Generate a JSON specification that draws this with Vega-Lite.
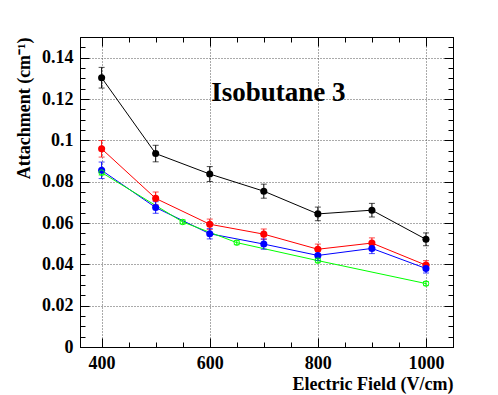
{
  "$schema": "https://vega.github.io/schema/vega-lite/v6.json",
  "width": 373,
  "height": 310,
  "autosize": {"type": "none"},
  "padding": {"left": 80, "top": 37, "right": 45, "bottom": 48},
  "background": "white",
  "config": {
    "view": {"stroke": null},
    "font": "Liberation Serif",
    "axis": {
      "labelFont": "Liberation Serif", "labelFontWeight": "bold", "labelFontSize": 18, "labelColor": "#000",
      "titleFont": "Liberation Serif", "titleFontWeight": "bold", "titleFontSize": 18, "titleColor": "#000",
      "domainColor": "#000", "tickColor": "#000", "domainWidth": 1, "tickWidth": 1,
      "gridColor": "#555", "gridDash": [1, 2], "gridWidth": 1, "gridOpacity": 1
    }
  },
  "datasets": {
    "filled": [
      {"series": "black", "field": 400, "att": 0.1303, "err": 0.005},
      {"series": "black", "field": 500, "att": 0.0936, "err": 0.004},
      {"series": "black", "field": 600, "att": 0.0837, "err": 0.0036},
      {"series": "black", "field": 700, "att": 0.0754, "err": 0.0034},
      {"series": "black", "field": 800, "att": 0.0644, "err": 0.0033},
      {"series": "black", "field": 900, "att": 0.0662, "err": 0.0033},
      {"series": "black", "field": 1000, "att": 0.0521, "err": 0.0031},
      {"series": "red", "field": 400, "att": 0.0959, "err": 0.004},
      {"series": "red", "field": 500, "att": 0.0719, "err": 0.0031},
      {"series": "red", "field": 600, "att": 0.0594, "err": 0.0025},
      {"series": "red", "field": 700, "att": 0.0546, "err": 0.0025},
      {"series": "red", "field": 800, "att": 0.0473, "err": 0.0025},
      {"series": "red", "field": 900, "att": 0.0503, "err": 0.0025},
      {"series": "red", "field": 1000, "att": 0.0396, "err": 0.0022},
      {"series": "blue", "field": 400, "att": 0.0855, "err": 0.004},
      {"series": "blue", "field": 500, "att": 0.0675, "err": 0.0028},
      {"series": "blue", "field": 600, "att": 0.0548, "err": 0.0025},
      {"series": "blue", "field": 700, "att": 0.0498, "err": 0.0025},
      {"series": "blue", "field": 800, "att": 0.0443, "err": 0.0025},
      {"series": "blue", "field": 900, "att": 0.0477, "err": 0.0025},
      {"series": "blue", "field": 1000, "att": 0.038, "err": 0.0022}
    ],
    "green": [
      {"series": "green", "field": 400, "att": 0.0844, "err": 0.0012},
      {"series": "green", "field": 550, "att": 0.0605, "err": 0.001},
      {"series": "green", "field": 650, "att": 0.0505, "err": 0.001},
      {"series": "green", "field": 800, "att": 0.0418, "err": 0.001},
      {"series": "green", "field": 1000, "att": 0.0307, "err": 0.001}
    ],
    "label": [{"text": "Isobutane 3"}]
  },
  "resolve": {"axis": {"x": "independent", "y": "independent"}},
  "layer": [
    {
      "data": {"name": "filled"},
      "mark": {"type": "line", "strokeWidth": 1},
      "encoding": {
        "x": {"field": "field", "type": "quantitative",
          "scale": {"domain": [360, 1050], "nice": false, "zero": false},
          "axis": {"orient": "bottom", "values": [400, 600, 800, 1000], "format": "d", "tickSize": -9,
            "labelFont": "Liberation Serif", "labelFontWeight": "bold", "labelFontSize": 18,
            "titleFont": "Liberation Serif", "titleFontWeight": "bold", "titleFontSize": 18,
            "labelPadding": 16, "grid": true, "title": "Electric Field (V/cm)", "titleAnchor": "end", "titlePadding": 3, "labelFlush": false}},
        "y": {"field": "att", "type": "quantitative",
          "scale": {"domain": [0, 0.15], "nice": false, "zero": false},
          "axis": {"orient": "left", "values": [0, 0.02, 0.04, 0.06, 0.08, 0.1, 0.12, 0.14], "format": "~g", "tickSize": -9,
            "labelFont": "Liberation Serif", "labelFontWeight": "bold", "labelFontSize": 18,
            "titleFont": "Liberation Serif", "titleFontWeight": "bold", "titleFontSize": 18,
            "labelPadding": 16, "grid": true, "title": "Attachment (cm⁻¹)", "titleAnchor": "end", "titlePadding": 8, "labelFlush": false}},
        "color": {"field": "series", "type": "nominal",
          "scale": {"domain": ["black", "red", "blue", "green"], "range": ["#000000", "#ff0000", "#0000ff", "#00ff00"]},
          "legend": null}
      }
    },
    {
      "data": {"name": "green"},
      "mark": {"type": "line", "strokeWidth": 1},
      "encoding": {
        "x": {"field": "field", "type": "quantitative",
          "axis": {"orient": "bottom", "values": [400, 450, 500, 550, 600, 650, 700, 750, 800, 850, 900, 950, 1000, 1050], "tickSize": -5, "labels": false, "grid": false, "title": null}},
        "y": {"field": "att", "type": "quantitative",
          "axis": {"orient": "left", "values": [0, 0.005, 0.01, 0.015, 0.02, 0.025, 0.03, 0.035, 0.04, 0.045, 0.05, 0.055, 0.06, 0.065, 0.07, 0.075, 0.08, 0.085, 0.09, 0.095, 0.1, 0.105, 0.11, 0.115, 0.12, 0.125, 0.13, 0.135, 0.14, 0.145], "tickSize": -5, "labels": false, "grid": false, "title": null}},
        "color": {"field": "series", "type": "nominal", "legend": null}
      }
    },
    {
      "data": {"name": "filled"},
      "mark": {"type": "errorbar", "ticks": {"size": 6}, "thickness": 1},
      "encoding": {
        "x": {"field": "field", "type": "quantitative", "axis": null},
        "y": {"field": "att", "type": "quantitative", "axis": null},
        "yError": {"field": "err"},
        "color": {"field": "series", "type": "nominal", "legend": null}
      }
    },
    {
      "data": {"name": "green"},
      "mark": {"type": "errorbar", "ticks": {"size": 6}, "thickness": 1},
      "encoding": {
        "x": {"field": "field", "type": "quantitative", "axis": null},
        "y": {"field": "att", "type": "quantitative", "axis": null},
        "yError": {"field": "err"},
        "color": {"field": "series", "type": "nominal", "legend": null}
      }
    },
    {
      "data": {"name": "filled"},
      "mark": {"type": "point", "shape": "circle", "filled": true, "size": 50, "opacity": 1},
      "encoding": {
        "x": {"field": "field", "type": "quantitative",
          "axis": {"orient": "top", "values": [400, 600, 800, 1000], "tickSize": -9, "labels": false, "grid": false, "title": null}},
        "y": {"field": "att", "type": "quantitative",
          "axis": {"orient": "right", "values": [0, 0.02, 0.04, 0.06, 0.08, 0.1, 0.12, 0.14], "tickSize": -9, "labels": false, "grid": false, "title": null}},
        "color": {"field": "series", "type": "nominal", "legend": null}
      }
    },
    {
      "data": {"name": "green"},
      "mark": {"type": "point", "shape": "circle", "filled": false, "size": 30, "strokeWidth": 1, "opacity": 1},
      "encoding": {
        "x": {"field": "field", "type": "quantitative",
          "axis": {"orient": "top", "values": [400, 450, 500, 550, 600, 650, 700, 750, 800, 850, 900, 950, 1000, 1050], "tickSize": -5, "labels": false, "grid": false, "title": null}},
        "y": {"field": "att", "type": "quantitative",
          "axis": {"orient": "right", "values": [0, 0.005, 0.01, 0.015, 0.02, 0.025, 0.03, 0.035, 0.04, 0.045, 0.05, 0.055, 0.06, 0.065, 0.07, 0.075, 0.08, 0.085, 0.09, 0.095, 0.1, 0.105, 0.11, 0.115, 0.12, 0.125, 0.13, 0.135, 0.14, 0.145], "tickSize": -5, "labels": false, "grid": false, "title": null}},
        "color": {"field": "series", "type": "nominal", "legend": null}
      }
    },
    {
      "data": {"name": "label"},
      "mark": {"type": "text", "font": "Liberation Serif", "fontWeight": "bold", "fontSize": 27, "align": "center", "baseline": "middle", "color": "#000"},
      "encoding": {
        "x": {"datum": 727, "type": "quantitative", "axis": null},
        "y": {"datum": 0.123, "type": "quantitative", "axis": null},
        "text": {"field": "text"}
      }
    }
  ]
}
